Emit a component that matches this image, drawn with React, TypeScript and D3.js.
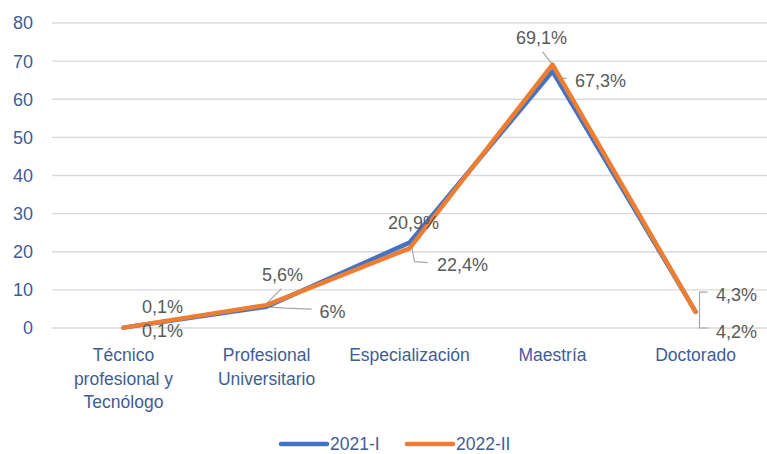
import React from "react";
import * as d3 from "d3";

const categories = [
  ["Técnico", "profesional y", "Tecnólogo"],
  ["Profesional", "Universitario"],
  ["Especialización"],
  ["Maestría"],
  ["Doctorado"],
];
const yTicks = [0, 10, 20, 30, 40, 50, 60, 70, 80];
const series2021 = [0.1, 5.6, 22.4, 67.3, 4.3];
const series2022 = [0.1, 6.0, 20.9, 69.1, 4.2];
const labels2021 = ["0,1%", "5,6%", "22,4%", "67,3%", "4,3%"];
const labels2022 = ["0,1%", "6%", "20,9%", "69,1%", "4,2%"];
const seriesNames = ["2021-I", "2022-II"];

const W = 767;
const H = 454;
const BLUE = "#4472C4";
const ORANGE = "#ED7D31";
const AXIS_TXT = "#3F5C98";
const LBL = "#595959";
const FONT = "'Liberation Sans', Arial, sans-serif";

export default function App() {
  const x = d3
    .scalePoint<number>()
    .domain(d3.range(categories.length))
    .range([52, 767])
    .padding(0.5);
  const y = d3.scaleLinear().domain([0, 80]).range([328, 23]);
  const line = d3
    .line<number>()
    .x((_, i) => x(i) as number)
    .y((d) => y(d));

  // label placements (pixel offsets relative to point)
  const off2021: [number, number][] = [
    [39, -21],
    [16, -32],
    [53, 22],
    [48, 9],
    [41, -17],
  ];
  const off2022: [number, number][] = [
    [39, 3],
    [66, 7],
    [4, -26],
    [-11, -27],
    [41, 20],
  ];

  const px = (i: number) => x(i) as number;

  return (
    <svg
      width={W}
      height={H}
      style={{ position: "absolute", left: 0, top: 0, display: "block", fontFamily: FONT }}
    >
      <rect width={W} height={H} fill="#fff" />
      {yTicks.map((t) => (
        <g key={t}>
          <line x1={52} x2={767} y1={y(t)} y2={y(t)} stroke="#D9D9D9" strokeWidth={1.3} />
          <text x={33} y={y(t)} dy="0.36em" textAnchor="end" fontSize={18} fill={AXIS_TXT}>
            {t}
          </text>
        </g>
      ))}
      {categories.map((lines, i) => (
        <text key={i} x={px(i)} y={361} textAnchor="middle" fontSize={17.5} fill={AXIS_TXT}>
          {lines.map((l, j) => (
            <tspan key={j} x={px(i)} dy={j === 0 ? 0 : 23.5}>
              {l}
            </tspan>
          ))}
        </text>
      ))}
      {/* leader lines */}
      <g stroke="#A6A6A6" strokeWidth={1.2} fill="none">
        <path d={`M${px(1)},${y(series2021[1]) - 3} L${px(1) + 15},${y(series2021[1]) - 18}`} />
        <path d={`M${px(1) + 4},${y(series2022[1]) + 2} L${px(1) + 19},${y(series2022[1]) + 3} L${px(1) + 45},${y(series2022[1]) + 4}`} />
        <path d={`M${px(2) + 2},${y(series2021[2]) + 3} L${px(2) + 5},${y(series2021[2]) + 19} L${px(2) + 18},${y(series2021[2]) + 20}`} />
        <path d={`M${px(3) - 10},${y(series2022[3]) - 13} L${px(3)},${y(series2022[3])}`} />
        <path d={`M${px(3) + 2},${y(series2021[3]) + 2} L${px(3) + 5},${y(series2021[3]) + 7} L${px(3) + 14},${y(series2021[3]) + 7}`} />
        <path d={`M${px(4) + 12},${y(series2021[4]) - 19.5} L${px(4) + 4},${y(series2021[4]) - 19.5} L${px(4) + 4},${y(series2022[4]) + 16} L${px(4) + 12},${y(series2022[4]) + 16}`} />
      </g>
      <path d={line(series2021)!} fill="none" stroke={BLUE} strokeWidth={4.5} strokeLinejoin="round" strokeLinecap="round" />
      <path d={line(series2022)!} fill="none" stroke={ORANGE} strokeWidth={4.5} strokeLinejoin="round" strokeLinecap="round" />
      {series2021.map((v, i) => (
        <text
          key={"a" + i}
          x={px(i) + off2021[i][0]}
          y={y(v) + off2021[i][1]}
          dy="0.35em"
          textAnchor="middle"
          fontSize={18}
          fill={LBL}
        >
          {labels2021[i]}
        </text>
      ))}
      {series2022.map((v, i) => (
        <text
          key={"b" + i}
          x={px(i) + off2022[i][0]}
          y={y(v) + off2022[i][1]}
          dy="0.35em"
          textAnchor="middle"
          fontSize={18}
          fill={LBL}
        >
          {labels2022[i]}
        </text>
      ))}
      {/* legend */}
      {[BLUE, ORANGE].map((c, i) => (
        <g key={i} transform={`translate(${281 + i * 126},444)`}>
          <line x1={0} x2={46} y1={0} y2={0} stroke={c} strokeWidth={4.5} strokeLinecap="round" />
          <text x={49} y={0} dy="0.36em" fontSize={17.5} fill={AXIS_TXT}>
            {seriesNames[i]}
          </text>
        </g>
      ))}
    </svg>
  );
}
